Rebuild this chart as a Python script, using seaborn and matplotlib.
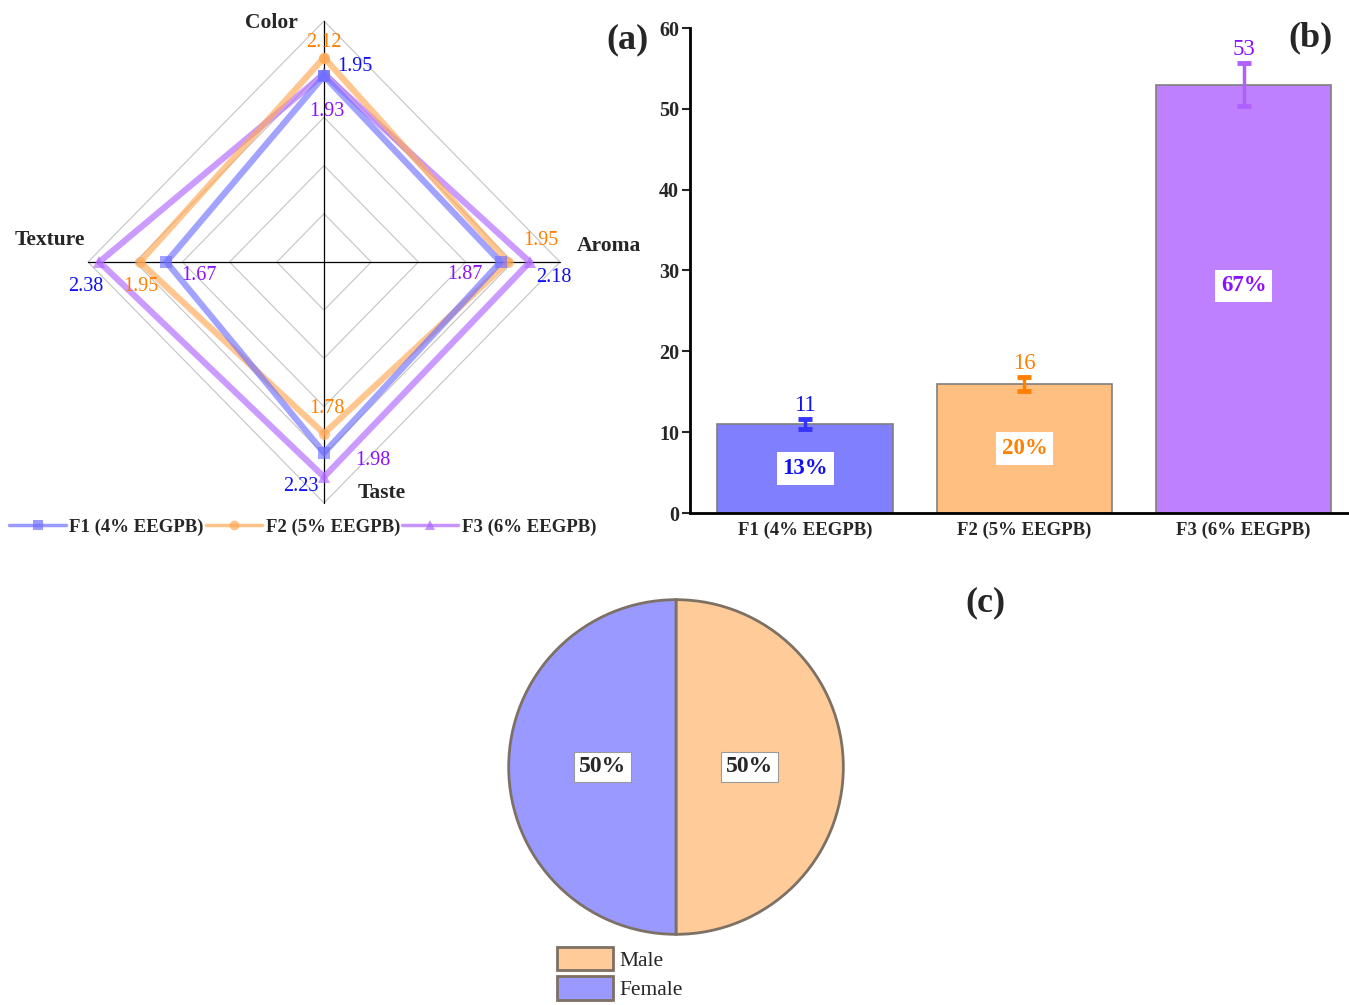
import numpy as np
import pandas as pd
import matplotlib
matplotlib.use("Agg")
import matplotlib.pyplot as plt
import seaborn as sns

sns.set_style("white")
plt.rcParams['font.family'] = ['Liberation Serif', 'DejaVu Serif']

# DATA
attributes = ['Color', 'Aroma', 'Taste', 'Texture']
formulations = ['F1 (4% EEGPB)', 'F2 (5% EEGPB)', 'F3 (6% EEGPB)']
f1_scores = [1.93, 1.87, 1.98, 1.67]
f2_scores = [2.12, 1.95, 1.78, 1.95]
f3_scores = [1.95, 2.18, 2.23, 2.38]
score_max = 2.5

acceptance = [11, 16, 53]
acceptance_err = [0.6, 0.85, 2.7]
acceptance_pct = ['13%', '20%', '67%']
y_ticks = [0, 10, 20, 30, 40, 50, 60]

gender = ['Male', 'Female']
gender_share = [50, 50]

# colours
line_cols = ['#7070ff', '#ffa855', '#b066ff']
text_cols = ['#1010f0', '#ff7f00', '#8a10ff']
bar_cols = ['#8080ff', '#ffbf80', '#bf80ff']
err_cols = ['#3535ff', '#ff8000', '#b060ff']
pie_cols = ['#ffcc99', '#9999ff']
markers = ['s', 'o', '^']

W, H = 1349, 1005
fig = plt.figure(figsize=(W / 100, H / 100), dpi=100)

def px_axes(left, top, width, height):
    return fig.add_axes([left / W, 1 - (top + height) / H, width / W, height / H])

# ---------------- (a) radar ----------------
cx, cy, sx, sy = 324, 262, 94.4, 96.4
ax = px_axes(cx - 3 * sx, cy - 3 * sy, 6 * sx, 6 * sy)
ax.set_xlim(-3, 3)
ax.set_ylim(-3, 3)
ax.axis('off')

angles = np.deg2rad([90, 0, -90, 180])
# grid diamonds
for r in [0.5, 1.0, 1.5, 2.0, 2.5]:
    a = np.append(angles, angles[0])
    ax.plot(r * np.cos(a), r * np.sin(a), color='#c4c4c4', lw=0.8, zorder=1)
ax.plot([-score_max, score_max], [0, 0], color='black', lw=0.9, zorder=1)
ax.plot([0, 0], [-score_max, score_max], color='black', lw=0.9, zorder=1)

series = [f1_scores, f2_scores, f3_scores]
handles = []
for i, vals in enumerate(series):
    v = np.append(vals, vals[0])
    a = np.append(angles, angles[0])
    df = pd.DataFrame({'x': v * np.cos(a), 'y': v * np.sin(a)})
    sns.lineplot(data=df, x='x', y='y', sort=False, ax=ax, color=line_cols[i],
                 lw=4.5, alpha=0.65, marker=markers[i], markersize=8,
                 markeredgewidth=0, zorder=3 - i * 0.1, estimator=None)
    handles.append(plt.Line2D([], [], color=line_cols[i], lw=2.5, alpha=0.7,
                              marker=markers[i], markersize=7, markeredgewidth=0))

# value labels (label colours follow the picture)
label_col = [text_cols[2], text_cols[1], text_cols[0]]
offsets = {
    (0, 0): (3, -36), (1, 0): (0, 15), (2, 0): (31, 8),
    (0, 1): (-36, -13), (1, 1): (33, 21), (2, 1): (24, -16),
    (0, 2): (49, -8), (1, 2): (3, 25), (2, 2): (-23, -10),
    (0, 3): (33, -14), (1, 3): (1, -25), (2, 3): (-14, -25),
}
for i, vals in enumerate(series):
    for j, val in enumerate(vals):
        ax.annotate(f'{val:.2f}', (val * np.cos(angles[j]), val * np.sin(angles[j])),
                    xytext=offsets[(i, j)], textcoords='offset pixels',
                    ha='center', va='center', fontsize=14.5, color=label_col[i],
                    zorder=5)

cat_pos = {'Color': (-0.56, 2.48), 'Aroma': (3.02, 0.17),
           'Taste': (0.61, -2.40), 'Texture': (-2.9, 0.23)}
for name in attributes:
    x, y = cat_pos[name]
    ax.text(x, y, name, ha='center', va='center', fontsize=15.5,
            fontweight='bold', clip_on=False)

fig.legend(handles, formulations, loc='center', bbox_to_anchor=(303 / W, 1 - 527 / H),
           ncol=3, frameon=False, handlelength=3.0, columnspacing=0.1,
           handletextpad=0.2, prop={'weight': 'bold', 'size': 13.5})

fig.text(627 / W, 1 - 40 / H, '(a)', ha='center', va='center', fontsize=26,
         fontweight='bold')

# ---------------- (b) bar ----------------
bx = px_axes(690, 28, W - 690, 485)
bdf = pd.DataFrame({'form': formulations, 'value': acceptance})
sns.barplot(data=bdf, x='form', y='value', hue='form', palette=bar_cols,
            saturation=1, width=0.8, edgecolor='#7f7f7f', linewidth=1.2,
            errorbar=None, legend=False, ax=bx)
for i in range(3):
    bx.errorbar(i, acceptance[i], yerr=acceptance_err[i], color=err_cols[i],
                lw=2.5, capsize=5, capthick=3.5, zorder=4)
    bx.annotate(str(acceptance[i]), (i, acceptance[i] + acceptance_err[i]),
                xytext=(0, 3), textcoords='offset pixels', ha='center',
                va='bottom', fontsize=16.5, color=text_cols[i])
    bx.text(i, acceptance[i] / 2 if i < 2 else acceptance[i] * 0.53,
            acceptance_pct[i], ha='center', va='center', fontsize=16.5,
            fontweight='bold', color=text_cols[i],
            bbox=dict(boxstyle='square,pad=0.25', fc='white', ec='none'))
bx.set_xlim(-0.525, 2.48)
bx.set_ylim(0, 60)
bx.set_yticks(y_ticks)
bx.set_xlabel('')
bx.set_ylabel('')
sns.despine(ax=bx, top=True, right=True)
for s in ['left', 'bottom']:
    bx.spines[s].set_linewidth(2)
    bx.spines[s].set_color('black')
bx.tick_params(axis='y', direction='out', length=6, width=1.5, labelsize=14.5, pad=2,
               left=True)
bx.tick_params(axis='x', length=0, labelsize=13.5, pad=6)
for t in bx.get_yticklabels() + bx.get_xticklabels():
    t.set_fontweight('bold')
fig.text(1311 / W, 1 - 38 / H, '(b)', ha='center', va='center', fontsize=26,
         fontweight='bold')

# ---------------- (c) pie ----------------
r = 169
px = px_axes(676 - r, 767 - r, 2 * r, 2 * r)
wedges, _, autotexts = px.pie(gender_share, labels=None, colors=pie_cols,
                              startangle=90, counterclock=False,
                              autopct=lambda p: f'{p:.0f}%', pctdistance=0.44,
                              wedgeprops=dict(edgecolor='#7d7064', linewidth=2),
                              textprops=dict(fontsize=17, fontweight='bold'))
for t in autotexts:
    t.set_bbox(dict(boxstyle='square,pad=0.2', fc='white', ec='#9a9a9a', lw=0.8))
px.set_xlim(-1.01, 1.01)
px.set_ylim(-1.01, 1.01)
px.legend(wedges, gender, loc='upper left', bbox_to_anchor=(557 / W, 1 - 947 / H),
          bbox_transform=fig.transFigure, frameon=False, borderpad=0,
          borderaxespad=0, handlelength=2.6, handleheight=1.3,
          labelspacing=0.25, handletextpad=0.3, fontsize=15.5)
fig.text(985 / W, 1 - 603 / H, '(c)', ha='center', va='center', fontsize=26,
         fontweight='bold')

fig.savefig('out.png', dpi=100)
